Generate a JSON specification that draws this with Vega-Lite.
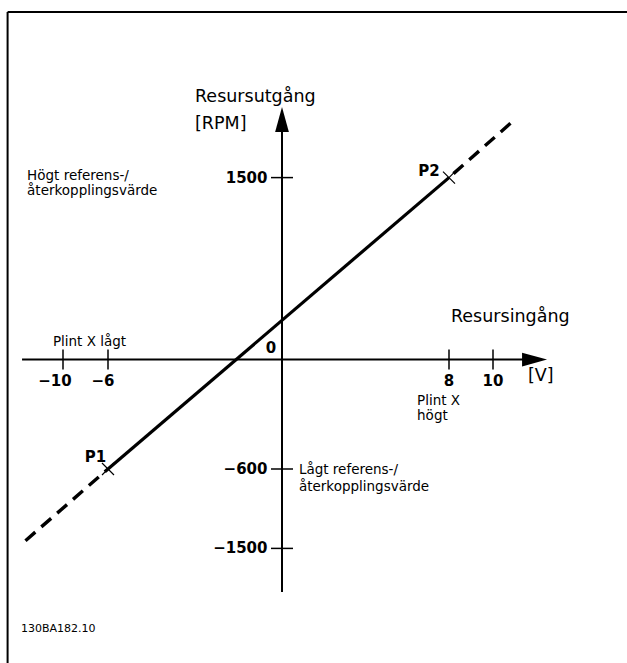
{
  "$schema": "https://vega.github.io/schema/vega-lite/v6.json",
  "width": 627,
  "height": 663,
  "padding": 0,
  "autosize": {"type": "none"},
  "background": "white",
  "config": {"view": {"stroke": null}},
  "datasets": {
    "rules": [
      {"part": "frameLeft", "x": -12.53, "y": 2865, "x2": -12.53, "y2": -2500},
      {"part": "frameTop", "x": -12.53, "y": 2865, "x2": 17, "y2": 2865},
      {"part": "yAxis", "x": 0, "y": -1846, "x2": 0, "y2": 1979},
      {"part": "xAxis", "x": -11.87, "y": 0, "x2": 11.97, "y2": 0}
    ],
    "marks": [
      {"kind": "vtick", "x": -10, "y": 0},
      {"kind": "vtick", "x": -6, "y": 0},
      {"kind": "vtick", "x": 8, "y": 0},
      {"kind": "vtick", "x": 10, "y": 0},
      {"kind": "htick", "x": 0, "y": 1500},
      {"kind": "htick", "x": 0, "y": -600},
      {"kind": "htick", "x": 0, "y": -1500},
      {"kind": "cross", "x": -6, "y": -600},
      {"kind": "cross", "x": 8, "y": 1500},
      {"kind": "up", "x": 0, "y": 1979},
      {"kind": "right", "x": 11.97, "y": 0}
    ],
    "curve": [
      {"seg": "solid", "x": -6, "y": -600},
      {"seg": "solid", "x": 8, "y": 1500},
      {"seg": "dashLow", "x": -11.92, "y": -1457},
      {"seg": "dashLow", "x": -6, "y": -600},
      {"seg": "dashHigh", "x": 8, "y": 1500},
      {"seg": "dashHigh", "x": 11.09, "y": 1988}
    ],
    "labels": [
      {"group": "big", "text": "Resursutgång", "x": -3.0, "y": 2165},
      {"group": "big", "text": "[RPM]", "x": -3.0, "y": 1942},
      {"group": "big", "text": "Resursingång", "x": 8.09, "y": 350},
      {"group": "big", "text": "[V]", "x": 11.66, "y": -90.4},
      {"group": "note", "text": "Högt referens-/", "x": -11.64, "y": 1517},
      {"group": "note", "text": "återkopplingsvärde", "x": -11.64, "y": 1390},
      {"group": "note", "text": "Plint X lågt", "x": -10.46, "y": 147.6},
      {"group": "note", "text": "Plint X", "x": 6.47, "y": -227},
      {"group": "note", "text": "högt", "x": 6.47, "y": -307},
      {"group": "note", "text": "Lågt referens-/", "x": 0.81, "y": -611},
      {"group": "note", "text": "återkopplingsvärde", "x": 0.81, "y": -804},
      {"group": "code", "text": "130BA182.10", "x": -11.92, "y": -2138},
      {"group": "numC", "text": "−10", "x": -10.37, "y": -118},
      {"group": "numC", "text": "−6", "x": -6.44, "y": -118},
      {"group": "numC", "text": "8", "x": 8, "y": -118},
      {"group": "numC", "text": "10", "x": 10, "y": -118},
      {"group": "numC", "text": "0", "x": -0.38, "y": 94.8},
      {"group": "numC", "text": "P1", "x": -7.11, "y": -532.6},
      {"group": "numC", "text": "P2", "x": 7.04, "y": 1554},
      {"group": "numR", "text": "1500", "x": -0.5, "y": 1500},
      {"group": "numR", "text": "−600", "x": -0.5, "y": -600},
      {"group": "numR", "text": "−1500", "x": -0.5, "y": -1500}
    ]
  },
  "encoding": {
    "x": {"field": "x", "type": "quantitative", "axis": null,
      "scale": {"type": "linear", "domain": [-20, -10, -6, 0, 8, 10, 20], "range": [-156, 63, 108, 282, 449, 493, 704], "nice": false, "zero": false}},
    "y": {"field": "y", "type": "quantitative", "axis": null,
      "scale": {"type": "linear", "domain": [-3000, -1500, -600, 0, 1500, 3000], "range": [737.3, 548.4, 469, 359.5, 177.6, -4.3], "nice": false, "zero": false}}
  },
  "layer": [
    {
      "data": {"name": "rules"},
      "mark": {"type": "rule", "color": "black", "strokeWidth": 2, "strokeCap": "butt"},
      "encoding": {"x2": {"field": "x2"}, "y2": {"field": "y2"}}
    },
    {
      "data": {"name": "curve"},
      "transform": [{"filter": "datum.seg === 'solid'"}],
      "mark": {"type": "line", "color": "black", "strokeWidth": 3.2, "strokeCap": "butt"},
      "encoding": {"detail": {"field": "seg"}}
    },
    {
      "data": {"name": "curve"},
      "transform": [{"filter": "datum.seg !== 'solid'"}],
      "mark": {"type": "line", "color": "black", "strokeWidth": 3.4, "strokeDash": [13, 8], "strokeDashOffset": -6, "strokeCap": "butt"},
      "encoding": {"detail": {"field": "seg"}}
    },
    {
      "data": {"name": "marks"},
      "transform": [{"filter": "datum.kind === 'vtick'"}],
      "mark": {"type": "point", "shape": "M0,-1L0,1", "size": 400, "filled": false, "color": "black", "strokeWidth": 1.5, "opacity": 1}
    },
    {
      "data": {"name": "marks"},
      "transform": [{"filter": "datum.kind === 'htick'"}],
      "mark": {"type": "point", "shape": "M-1,0L1,0", "size": 484, "filled": false, "color": "black", "strokeWidth": 1.5, "opacity": 1}
    },
    {
      "data": {"name": "marks"},
      "transform": [{"filter": "datum.kind === 'cross'"}],
      "mark": {"type": "point", "shape": "M-1,-1L1,1M-1,1L1,-1", "size": 144, "filled": false, "color": "black", "strokeWidth": 1.2, "opacity": 1}
    },
    {
      "data": {"name": "marks"},
      "transform": [{"filter": "datum.kind === 'up'"}],
      "mark": {"type": "point", "shape": "M0,-1L0.55,1L-0.55,1Z", "size": 625, "filled": true, "color": "black", "opacity": 1}
    },
    {
      "data": {"name": "marks"},
      "transform": [{"filter": "datum.kind === 'right'"}],
      "mark": {"type": "point", "shape": "M1,0L-1,-0.55L-1,0.55Z", "size": 625, "filled": true, "color": "black", "opacity": 1}
    },
    {
      "data": {"name": "labels"},
      "transform": [{"filter": "datum.group === 'big'"}],
      "mark": {"type": "text", "font": "DejaVu Sans", "fontSize": 17.5, "align": "left", "baseline": "middle", "color": "black"},
      "encoding": {"text": {"field": "text"}}
    },
    {
      "data": {"name": "labels"},
      "transform": [{"filter": "datum.group === 'note'"}],
      "mark": {"type": "text", "font": "DejaVu Sans", "fontSize": 13.5, "align": "left", "baseline": "middle", "color": "black"},
      "encoding": {"text": {"field": "text"}}
    },
    {
      "data": {"name": "labels"},
      "transform": [{"filter": "datum.group === 'code'"}],
      "mark": {"type": "text", "font": "DejaVu Sans", "fontSize": 11, "align": "left", "baseline": "middle", "color": "black"},
      "encoding": {"text": {"field": "text"}}
    },
    {
      "data": {"name": "labels"},
      "transform": [{"filter": "datum.group === 'numC'"}],
      "mark": {"type": "text", "font": "DejaVu Sans", "fontWeight": "bold", "fontSize": 15, "align": "center", "baseline": "middle", "color": "black"},
      "encoding": {"text": {"field": "text"}}
    },
    {
      "data": {"name": "labels"},
      "transform": [{"filter": "datum.group === 'numR'"}],
      "mark": {"type": "text", "font": "DejaVu Sans", "fontWeight": "bold", "fontSize": 15, "align": "right", "baseline": "middle", "color": "black"},
      "encoding": {"text": {"field": "text"}}
    }
  ]
}
